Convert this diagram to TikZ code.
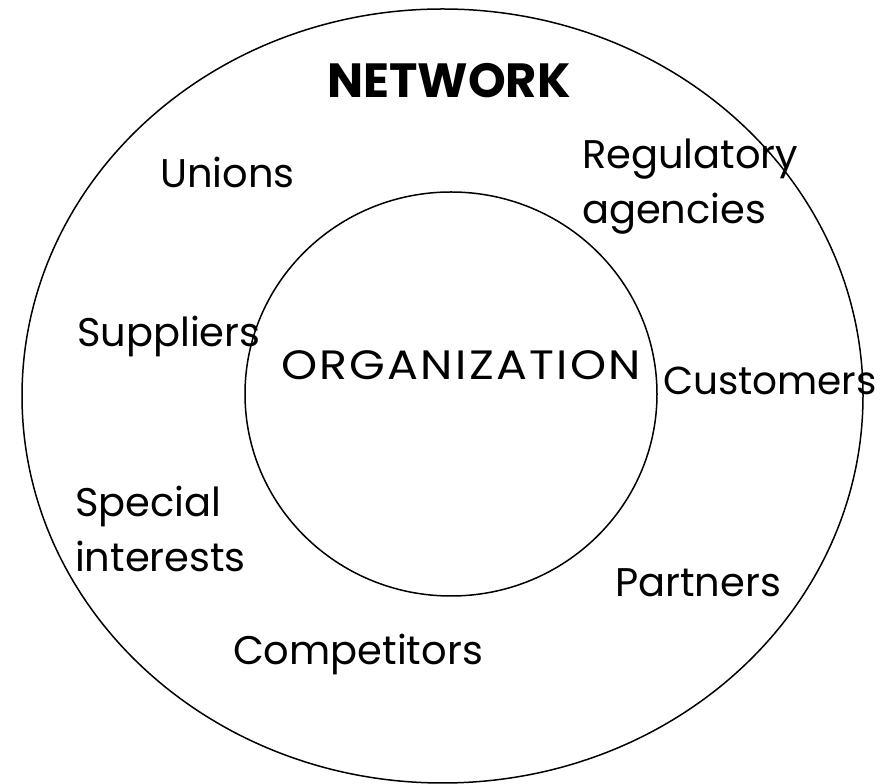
\documentclass[tikz,border=0pt]{standalone}
\usepackage{fontspec}
\setmainfont{Poppins}
\begin{document}
\begin{tikzpicture}[x=1pt,y=1pt,
  ring/.style={draw=black,line width=1.5pt},
  lbl/.style={inner sep=0pt,outer sep=0pt,anchor=base west,align=left,font=\fontsize{40}{55}\selectfont},
  title/.style={inner sep=0pt,anchor=base west,font=\fontsize{48}{54}\selectfont\bfseries}]
\useasboundingbox (0,0) rectangle (884,784);
\draw[ring] (442.5,388) ellipse [x radius=420.5, y radius=387];
\draw[ring] (451,390) ellipse [x radius=206, y radius=202];
\node[title] (network) at (327,686) {NETWORK};
\node[lbl] (unions) at (160,596) {Unions};
\node[lbl] (regulatory) at (582,560) {Regulatory\\agencies};
\node[lbl] (suppliers) at (77,437) {Suppliers};
\node[lbl] (organization) at (281,404) {\scalebox{1.12}[1]{\fontsize{41}{50}\selectfont\addfontfeature{LetterSpace=5}ORGANIZATION}};
\node[lbl] (customers) at (663,389) {\fontsize{39}{50}\selectfont Customers};
\node[lbl] (special) at (75,212) {Special\\interests};
\node[lbl] (partners) at (615,187) {Partners};
\node[lbl] (competitors) at (233,119) {Competitors};
\end{tikzpicture}
\end{document}
